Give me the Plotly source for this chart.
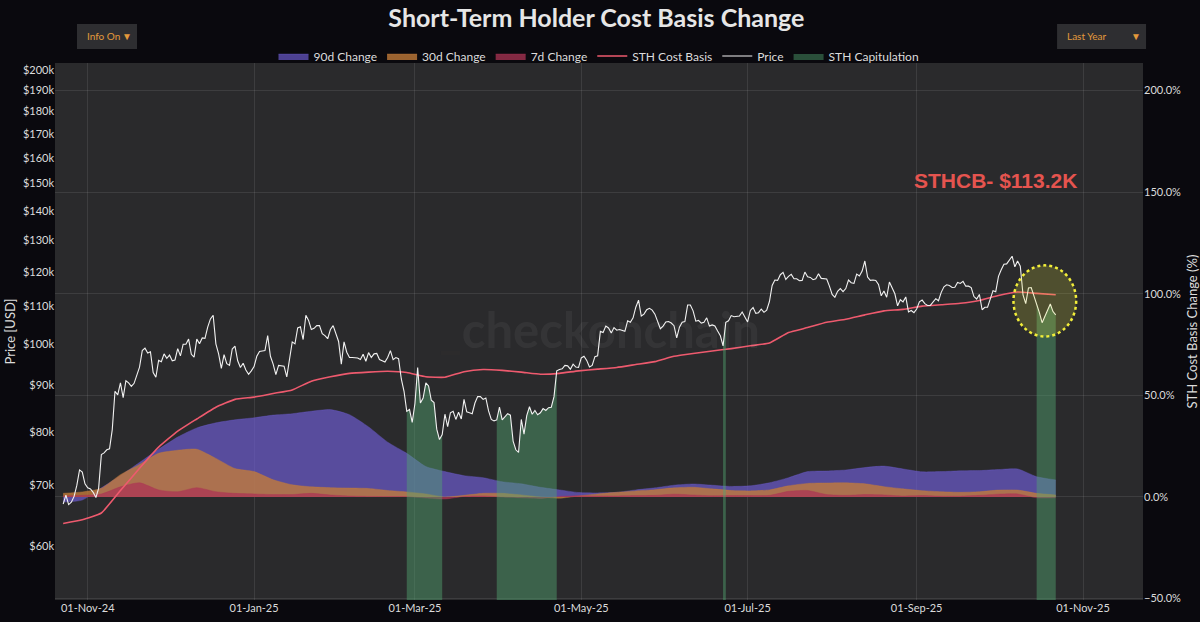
import pandas as pd
import plotly.graph_objects as go

# daily BTC price (thousand USD), 23-Oct-24 .. 22-Oct-25
price_start = "2024-10-23"
price_k = [
    66.7, 68.2, 66.6, 67.0, 68.0, 69.9, 72.7, 72.3, 70.2,  # Oct-24
    69.5, 69.3, 68.7, 67.8, 69.4, 75.6, 75.9, 76.5, 76.7, 80.5,
    88.7, 87.9, 90.6, 87.3, 91.1, 90.6, 89.8, 90.5, 92.3, 94.3,
    98.3, 98.9, 97.7, 98.0, 93.0, 91.9, 95.9, 95.6, 97.5, 96.4,  # Nov-24
    97.2, 95.8, 96.0, 98.8, 97.0, 99.9, 99.9, 101.2, 97.4, 96.7,
    101.2, 100.0, 101.5, 101.4, 104.3, 106.5, 107.5, 100.0, 97.5, 94.0,
    97.3, 95.1, 94.7, 98.7, 99.4, 95.8, 94.2, 95.2, 93.6, 92.6, 93.4,  # Dec-24
    94.4, 96.9, 98.1, 98.2, 98.3, 102.1, 96.9, 95.0, 92.5, 94.7,
    94.6, 94.5, 92.0, 96.5, 100.5, 100.0, 104.1, 104.4, 101.1, 107.5,
    106.1, 103.7, 104.0, 104.7, 104.7, 102.6, 102.1, 101.3, 103.7, 104.7, 102.4,  # Jan-25
    100.6, 95.0, 100.5, 97.9, 96.6, 96.6, 96.5, 96.5, 96.1, 97.4,
    95.7, 97.8, 96.6, 97.5, 97.6, 96.1, 95.8, 95.5, 96.6, 98.3,
    96.1, 96.6, 96.3, 91.5, 88.7, 84.3, 84.7, 82.0,  # Feb-25
    86.0, 94.2, 86.1, 87.2, 90.6, 89.9, 86.7, 86.2, 80.6, 78.5,
    79.5, 83.7, 81.1, 84.0, 84.3, 82.6, 84.1, 82.7, 86.9, 84.2,
    84.0, 83.8, 86.1, 87.5, 87.5, 86.9, 87.2, 84.4, 82.6, 82.3, 82.5,  # Mar-25
    85.2, 82.5, 83.1, 83.8, 83.5, 78.2, 76.5, 76.0, 82.6, 79.6,
    83.4, 85.3, 83.7, 84.5, 83.6, 84.0, 84.9, 84.5, 85.1, 85.2,
    87.5, 93.4, 93.7, 93.9, 94.7, 94.6, 93.8, 95.0, 94.3, 94.2,  # Apr-25
    96.5, 96.9, 95.9, 94.3, 94.7, 96.8, 97.0, 103.2, 102.9, 104.6,
    104.1, 102.8, 104.2, 103.5, 103.7, 103.5, 103.2, 106.0, 105.6, 106.8,
    109.7, 111.7, 107.3, 107.8, 109.0, 109.4, 108.9, 107.8, 105.6, 103.9, 104.6,  # May-25
    105.7, 105.8, 105.4, 104.7, 101.5, 104.3, 105.6, 105.8, 110.3, 110.3,
    108.7, 105.9, 106.1, 105.4, 105.6, 106.8, 104.6, 104.9, 104.6, 103.3,
    102.1, 99.5, 105.6, 106.0, 107.4, 107.1, 107.3, 107.3, 108.4, 107.1,  # Jun-25
    105.7, 108.8, 109.6, 108.0, 108.2, 109.2, 108.3, 108.9, 111.3, 115.9,
    117.5, 117.4, 119.1, 119.8, 117.7, 118.6, 119.2, 117.9, 117.9, 117.3,
    117.4, 119.9, 118.5, 118.3, 117.6, 117.9, 119.4, 118.0, 117.9, 117.8, 115.7,  # Jul-25
    113.3, 112.5, 114.2, 115.0, 114.1, 115.0, 117.5, 116.7, 116.5, 119.3,
    118.7, 120.2, 123.3, 118.4, 117.4, 117.5, 117.4, 116.2, 112.9, 114.3,
    112.5, 116.9, 115.4, 113.5, 110.1, 111.8, 111.2, 112.6, 108.4, 108.8, 108.2,  # Aug-25
    109.2, 111.2, 111.7, 110.7, 110.2, 110.2, 111.2, 112.1, 111.5, 113.9,
    115.5, 116.1, 115.9, 115.3, 115.4, 116.8, 116.5, 117.1, 115.7, 115.7,
    115.3, 112.7, 112.0, 113.3, 109.0, 109.7, 109.7, 112.1, 114.4, 114.1,  # Sep-25
    118.6, 120.6, 122.3, 122.4, 123.5, 124.8, 121.5, 123.3, 121.7, 113.2,
    110.7, 115.2, 115.3, 113.0, 110.8, 108.2, 105.5, 107.2, 108.7, 110.6,
    108.5, 107.6,  # Oct-25
]

# weekly series, 23-Oct-24 .. 22-Oct-25
weekly_start = "2024-10-23"
sth_cost_basis_k = [
    63.5, 64.1, 65.2, 69.0, 73.0, 77.0, 80.2, 82.7, 85.2, 86.9,
    87.4, 88.2, 89.0, 91.0, 92.0, 92.8, 93.1, 93.3, 93.0, 92.0,
    91.9, 93.2, 93.7, 93.5, 93.1, 92.6, 92.8, 93.4, 93.8, 94.2,
    94.9, 95.6, 96.9, 97.6, 98.2, 98.8, 99.5, 100.2, 102.9, 104.2,
    105.6, 106.4, 107.6, 108.7, 109.1, 110.0, 110.4, 110.8, 111.6, 113.0,
    114.0, 113.6, 113.2,
]
chg_90d = [
    -2.5, -1.5, 4.5, 10.5, 17.0, 23.5, 29.5, 34.0, 36.5, 38.0,
    39.0, 40.3, 41.0, 42.2, 43.0, 40.5, 34.5, 27.0, 21.5, 15.0,
    12.5, 10.5, 9.5, 7.5, 6.5, 4.8, 3.5, 2.2, 2.0, 2.3,
    3.5, 4.5, 5.8, 6.4, 5.8, 5.2, 5.5, 7.0, 9.5, 12.5,
    12.8, 13.3, 14.5, 15.2, 13.8, 12.4, 12.5, 12.9, 13.0, 13.5,
    13.8, 10.0, 8.4,
]
chg_30d = [
    1.8, 2.5, 4.3, 11.0, 16.0, 21.5, 23.0, 23.5, 19.0, 14.0,
    12.5, 8.5, 6.0, 5.0, 4.6, 4.4, 4.2, 3.2, 2.5, 1.5,
    0.0, 0.8, 1.8, 1.8, 1.0, 0.0, -0.6, 0.5, 1.5, 2.3,
    3.0, 3.6, 4.5, 4.8, 4.0, 3.2, 3.0, 3.5, 5.5, 6.7,
    6.9, 7.0, 6.5, 5.1, 4.0, 3.1, 2.6, 2.3, 2.6, 3.4,
    3.4, 1.8, 1.0,
]
chg_7d = [
    0.5, 0.8, 1.5, 5.0, 7.0, 3.5, 2.6, 4.6, 2.6, 1.8,
    1.5, 1.2, 1.2, 1.8, 1.0, 0.5, 0.3, 0.2, 0.2, -0.5,
    -1.0, 0.3, 0.5, 0.0, -0.4, -0.7, 0.3, 0.6, 0.5, 0.5,
    0.7, 0.8, 1.4, 1.0, 0.6, 0.7, 0.7, 0.8, 2.8, 3.2,
    1.2, 0.8, 1.2, 1.0, 0.5, 0.7, 0.4, 0.4, 0.8, 1.4,
    1.5, -0.4, -0.4,
]

# days where price sat below the STH cost basis
capitulation_periods = [
    ("2025-02-26", "2025-03-11"),
    ("2025-03-31", "2025-04-22"),
    ("2025-06-22", "2025-06-23"),
    ("2025-10-15", "2025-10-22"),
]

price_ticks_k = [60, 70, 80, 90, 100, 110, 120, 130, 140, 150, 160, 170, 180, 190, 200]
date_ticks = ["2024-11-01", "2025-01-01", "2025-03-01", "2025-05-01",
              "2025-07-01", "2025-09-01", "2025-11-01"]

PAPER = "#0a090e"
PLOT_BG = "#2a2a2c"
GRID = "rgba(255,255,255,0.09)"
TEXT = "#dcdcdc"
FONT = "Lato"
CAP_FILL = "rgba(82,166,112,0.45)"
MENU_BG = "#2e2e31"
MENU_TXT = "#e39a3c"

price_dates = pd.date_range(price_start, periods=len(price_k), freq="D")
weekly_dates = pd.date_range(weekly_start, periods=len(sth_cost_basis_k), freq="7D")

price = pd.Series(price_k, index=price_dates) * 1000
sth = pd.Series(sth_cost_basis_k, index=weekly_dates) * 1000

fig = go.Figure()

# change bands on the % axis (drawn underneath)
for name, vals, fill in [
    ("90d Change", chg_90d, "rgba(112,94,215,0.66)"),
    ("30d Change", chg_30d, "rgba(196,124,58,0.78)"),
    ("7d Change", chg_7d, "rgba(172,52,84,0.75)"),
]:
    fig.add_trace(go.Scatter(
        x=weekly_dates, y=vals, name=name, mode="lines",
        line=dict(width=0.5, color=fill, shape="spline", smoothing=0.6),
        fill="tozeroy", fillcolor=fill, yaxis="y",
    ))

# price-side traces on the overlaying log axis
fig.add_trace(go.Scatter(
    x=weekly_dates, y=sth, name="STH Cost Basis", mode="lines",
    line=dict(color="#ee5a6e", width=1.6, shape="spline", smoothing=0.4),
    yaxis="y2", legendrank=1004,
))
for i, (start, end) in enumerate(capitulation_periods):
    seg = price[start:end]
    fig.add_trace(go.Scatter(
        x=seg.index, y=seg.values, name="STH Capitulation", mode="lines",
        line=dict(width=0, color=CAP_FILL), fill="tozeroy", fillcolor=CAP_FILL,
        yaxis="y2", legendgroup="cap", showlegend=(i == 0), legendrank=1006,
    ))
fig.add_trace(go.Scatter(
    x=price.index, y=price.values, name="Price", mode="lines",
    line=dict(color="#f2f2f2", width=1.1), yaxis="y2", legendrank=1005,
))

# highlight around the latest capitulation
fig.add_shape(
    type="circle", xref="x", yref="y",
    x0="2025-10-06 12:00", x1="2025-10-29 12:00", y0=79, y1=114,
    line=dict(color="#f2ee3a", width=2.5, dash="dot"),
    fillcolor="rgba(230,228,60,0.2)", layer="above",
)

fig.add_annotation(
    x="2025-09-30", y=156, xref="x", yref="y",
    text="<b>STHCB- $113.2K</b>", showarrow=False,
    font=dict(family="Liberation Sans", size=21, color="#e5544f"),
)
fig.add_annotation(
    x=0.5, y=0.505, xref="paper", yref="paper",
    text="<span style='color:rgba(205,140,60,0.35)'>_</span>checkonchain",
    showarrow=False,
    font=dict(family=FONT, size=49, color="rgba(255,255,255,0.05)", weight="bold"),
)

# the two selector boxes above the plot
for x0, x1, label in [(0.0202, 0.0754, "Info On"), (0.9210, 1.0028, "Last Year")]:
    fig.add_shape(
        type="rect", xref="paper", yref="paper", x0=x0, x1=x1, y0=1.0261, y1=1.0726,
        fillcolor=MENU_BG, line=dict(width=0), layer="above",
    )
    fig.add_annotation(
        x=x0 + 0.007, y=1.0494, xref="paper", yref="paper",
        xanchor="left", yanchor="middle",
        text=label, showarrow=False, font=dict(size=10, color=MENU_TXT),
    )
    fig.add_annotation(
        x=x1 - 0.003, y=1.0494, xref="paper", yref="paper",
        xanchor="right", yanchor="middle",
        text="\u25bc", showarrow=False, font=dict(size=10, color=MENU_TXT),
    )

fig.update_layout(
    width=1200, height=622,
    paper_bgcolor=PAPER, plot_bgcolor=PLOT_BG,
    margin=dict(l=55, r=57, t=63, b=22, autoexpand=False),
    font=dict(family=FONT, size=11, color=TEXT),
    title=dict(
        text="<b>Short-Term Holder Cost Basis Change</b>",
        x=0.497, xanchor="center", y=0.971, yanchor="middle",
        font=dict(family=FONT, size=25, color="#e6e6e6"),
    ),
    legend=dict(
        orientation="h", x=0.5, xanchor="center", y=1.013, yanchor="middle",
        font=dict(size=12, color=TEXT), bgcolor="rgba(0,0,0,0)",
        itemwidth=30, tracegroupgap=0,
    ),
    xaxis=dict(
        type="date", range=["2024-10-20", "2025-11-23"], automargin=False,
        tickvals=date_ticks, tickformat="%d-%b-%y",
        showgrid=True, gridcolor=GRID, zeroline=False, showline=False,
        ticks="", tickfont=dict(size=11, color=TEXT),
    ),
    yaxis=dict(
        side="right", range=[-50.7, 213.6], dtick=50, tickformat=".1f",
        ticksuffix="%", showgrid=True, gridcolor=GRID, zeroline=False,
        automargin=False,
        title=dict(text="STH Cost Basis Change (%)", font=dict(size=13, color=TEXT), standoff=14),
        tickfont=dict(size=11, color=TEXT),
    ),
    yaxis2=dict(
        type="log", overlaying="y", side="left", range=[4.7187, 5.3084],
        tickvals=[v * 1000 for v in price_ticks_k],
        ticktext=[f"${v}k" for v in price_ticks_k],
        showgrid=False, zeroline=False, automargin=False,
        title=dict(text="Price [USD]", font=dict(size=13, color=TEXT), standoff=4),
        tickfont=dict(size=11, color=TEXT),
    ),
)

fig.write_html(
    "out.html",
    config={"displayModeBar": False},
    post_script="document.body.style.margin='0';",
)
